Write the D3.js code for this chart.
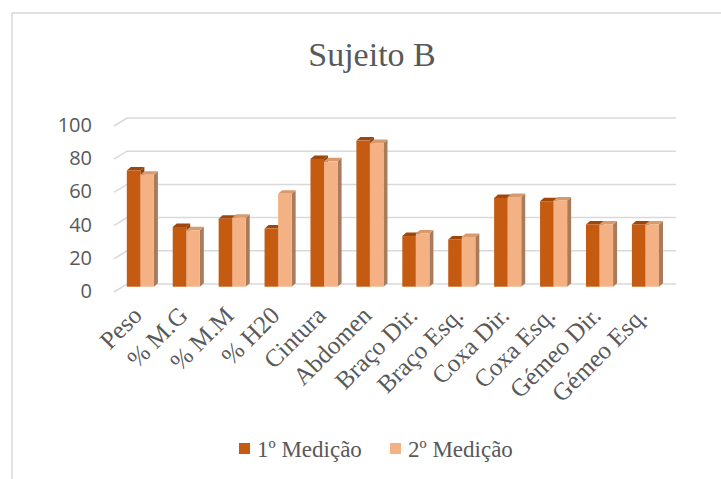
<!DOCTYPE html>
<html>
<head>
<meta charset="utf-8">
<script src="https://cdn.jsdelivr.net/npm/d3@7"></script>
<style>
  body { margin: 0; background: #fff; }
  svg { display: block; }
</style>
</head>
<body>
<div class="chart"></div>
<script>
const categories = ['Peso', '% M.G', '% M.M', '% H20', 'Cintura', 'Abdomen',
  'Braço Dir.', 'Braço Esq.', 'Coxa Dir.', 'Coxa Esq.', 'Gémeo Dir.', 'Gémeo Esq.'];
const medicao1 = [70, 36, 41, 35, 77, 88, 30.5, 28.5, 53.5, 51.5, 37.5, 37.5];
const medicao2 = [67.5, 34, 41.5, 56, 75.5, 86.5, 32, 30, 54, 52, 37.5, 37.5];
const seriesNames = ['1º Medição', '2º Medição'];
const yTicks = [0, 20, 40, 60, 80, 100];

const W = 721, H = 479;
const colors = {
  front: ['#c55a11', '#f4b183'],
  top:   ['#9e460b', '#d89a6c'],
  side:  ['#8f400a', '#a87b5c']
};
const depth = { x: 4, y: -3.5 };   // bar depth
const wall  = { x: 13, y: -8 };    // back wall offset from axis plane
const barShift = -5.3;             // bars sit a little behind the axis plane
const serif = '"Liberation Serif", "Times New Roman", serif';

const svg = d3.select('.chart').append('svg')
  .attr('width', W).attr('height', H);

svg.append('rect')
  .attr('x', 12).attr('y', 13)
  .attr('width', W).attr('height', H)
  .attr('fill', '#fff')
  .attr('stroke', '#d9d9d9').attr('stroke-width', 1.5);

svg.append('text')
  .attr('x', 372).attr('y', 66)
  .attr('text-anchor', 'middle')
  .style('font-family', serif)
  .style('font-size', '34px')
  .style('fill', '#595959')
  .text('Sujeito B');

const x = d3.scaleBand(categories, [117.4, 668.4]).paddingInner(0.41).paddingOuter(0.205);
const xs = d3.scaleBand([0, 1], [0, x.bandwidth()]);
const y = d3.scaleLinear([0, 100], [292, 126]);

// gridlines: slanted floor part + back wall
svg.append('g').selectAll('path')
  .data(yTicks).enter().append('path')
  .attr('d', d => {
    const yy = y(d);
    return `M114,${yy}L${114 + wall.x},${yy + wall.y}L676,${yy + wall.y}`;
  })
  .attr('fill', 'none')
  .attr('stroke', '#d9d9d9')
  .attr('stroke-width', 1.5);

svg.append('g').selectAll('text')
  .data(yTicks).enter().append('text')
  .attr('x', 92)
  .attr('y', d => y(d) - 1)
  .attr('dy', '0.35em')
  .attr('text-anchor', 'end')
  .style('font-family', '"Open Sans", sans-serif')
  .style('font-size', '20px')
  .style('fill', '#595959')
  .text(d => d);

// bars
const barData = [];
categories.forEach((c, i) => {
  [medicao1[i], medicao2[i]].forEach((v, s) => barData.push({ c, s, v }));
});

const bars = svg.append('g').selectAll('g')
  .data(barData).enter().append('g');

bars.each(function(d) {
  const g = d3.select(this);
  const x0 = x(d.c) + xs(d.s);
  const w = xs.bandwidth();
  const y0 = y(0) + barShift;
  const y1 = y(d.v) + barShift;
  g.append('path')
    .attr('d', `M${x0 + w},${y1}L${x0 + w + depth.x},${y1 + depth.y}L${x0 + w + depth.x},${y0 + depth.y}L${x0 + w},${y0}Z`)
    .attr('fill', colors.side[d.s]);
  g.append('path')
    .attr('d', `M${x0},${y1}L${x0 + depth.x},${y1 + depth.y}L${x0 + w + depth.x},${y1 + depth.y}L${x0 + w},${y1}Z`)
    .attr('fill', colors.top[d.s]);
  g.append('rect')
    .attr('x', x0).attr('y', y1)
    .attr('width', w).attr('height', y0 - y1)
    .attr('fill', colors.front[d.s]);
});

// category labels
svg.append('g').selectAll('text')
  .data(categories).enter().append('text')
  .attr('transform', d => `translate(${x(d) + x.bandwidth() / 2 + 3},${317}) rotate(-45)`)
  .attr('text-anchor', 'end')
  .style('font-family', serif)
  .style('font-size', '25px')
  .style('fill', '#595959')
  .text(d => d);

// legend
const legend = svg.append('g').selectAll('g')
  .data(seriesNames).enter().append('g')
  .attr('transform', (d, i) => `translate(${i === 0 ? 239 : 390},443)`);

legend.append('rect')
  .attr('width', 11).attr('height', 11)
  .attr('fill', (d, i) => colors.front[i]);

legend.append('text')
  .attr('x', 18).attr('y', 14)
  .style('font-family', serif)
  .style('font-size', '23px')
  .style('fill', '#595959')
  .text(d => d);
</script>
</body>
</html>
